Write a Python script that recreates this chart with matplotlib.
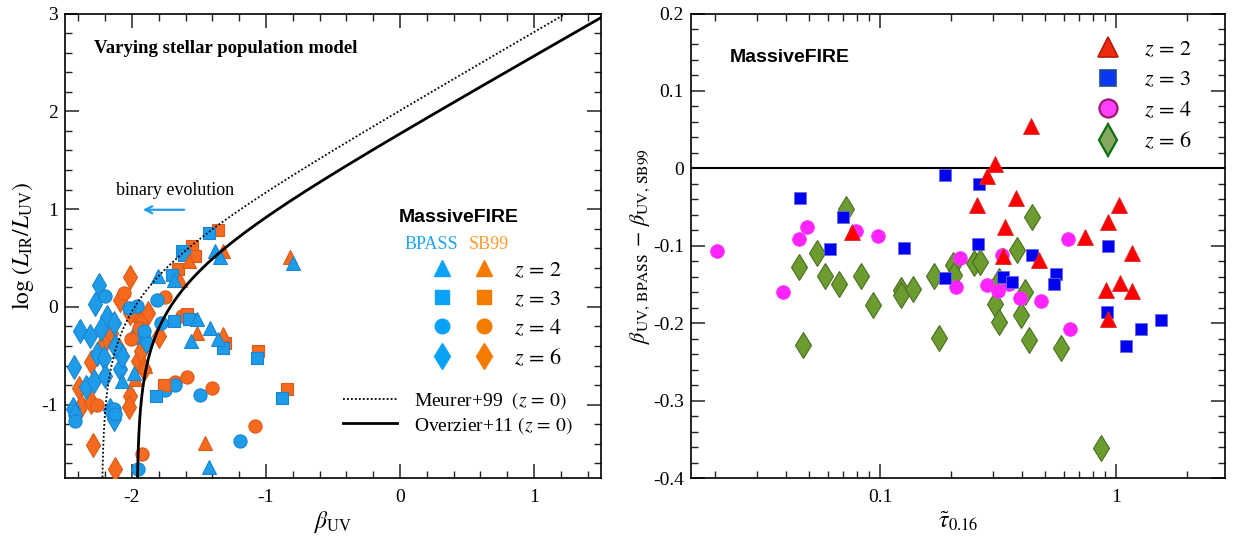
import numpy as np
import matplotlib
matplotlib.use("Agg")
import matplotlib.pyplot as plt
from matplotlib.lines import Line2D
from matplotlib.legend_handler import HandlerTuple
from matplotlib import ticker

plt.rcParams.update({
    "font.family": ["Liberation Serif", "DejaVu Serif"],
    "mathtext.fontset": "stix",
    "axes.unicode_minus": False,
    "xtick.direction": "in",
    "ytick.direction": "in",
    "xtick.top": True,
    "ytick.right": True,
    "axes.linewidth": 1.2,
})

# ---------------- IRX-beta sample (left panel) ----------------
bpass_z2_beta = [-1.380, -1.342, -1.806, -1.690, -1.516, -1.417, -1.561, -1.355, -0.797, -2.074, -1.988, -1.422]
bpass_z2_irx = [0.568, 0.510, 0.313, 0.279, -0.129, -0.214, -0.350, -0.327, 0.449, -0.759, -0.673, -1.633]
sb99_z2_beta = [-1.323, -0.821, -1.578, -1.640, -1.516, -1.318, -1.454, -1.901, -1.975]
sb99_z2_irx = [0.568, 0.510, 0.466, 0.279, -0.265, -0.282, -1.388, -0.605, -0.735]

bpass_z3_beta = [-1.429, -1.628, -1.610, -1.702, -1.690, -1.578, -1.318, -1.069, -1.819, -0.883]
bpass_z3_irx = [0.755, 0.568, 0.534, 0.330, -0.146, -0.122, -0.418, -0.520, -0.912, -0.929]
sb99_z3_beta = [-1.355, -1.553, -1.529, -1.653, -1.591, -1.305, -1.062, -0.846, -1.764]
sb99_z3_irx = [0.789, 0.619, 0.517, 0.388, -0.078, -0.367, -0.452, -0.844, -0.803]

bpass_z4_beta = [-2.199, -1.814, -1.963, -2.025, -1.782, -1.913, -2.136, -2.422, -1.752, -1.677, -1.491, -1.194, -1.958, -2.124]
bpass_z4_irx = [0.109, 0.068, 0.007, -0.010, -0.170, -0.248, -1.048, -1.167, -0.850, -0.799, -0.905, -1.371, -1.653, -1.099]
sb99_z4_beta = [-2.062, -1.752, -1.628, -1.591, -1.404, -1.082, -1.926, -2.261, -1.677, -2.007, -1.950]
sb99_z4_irx = [0.143, 0.102, -0.095, -0.714, -0.827, -1.218, -1.507, -1.007, -0.769, -0.333, -0.214]

bpass_z6_beta = [-2.248, -2.273, -2.186, -2.132, -2.385, -2.310, -2.231, -2.261, -2.211, -2.434, -2.340,
                 -2.280, -2.199, -2.087, -1.963, -1.893, -2.439, -2.429, -2.161, -2.132, -2.074, -2.124]
bpass_z6_irx = [0.228, 0.031, -0.102, -0.163, -0.248, -0.293, -0.231, -0.486, -0.520, -0.612, -0.816,
                -0.759, -0.707, -0.633, -0.272, -0.350, -1.041, -1.109, -1.054, -1.143, -0.503, -0.401]
sb99_z6_beta = [-2.012, -2.087, -1.963, -1.883, -1.933, -1.801, -2.211, -2.099, -2.156, -2.303, -1.958,
                -1.933, -2.397, -2.380, -2.303, -2.012, -2.025, -2.290, -2.124, -1.913, -2.012]
sb99_z6_irx = [0.306, 0.075, -0.095, -0.061, -0.170, -0.293, -0.367, -0.442, -0.265, -0.565, -0.554,
               -0.452, -0.827, -1.014, -0.973, -0.912, -1.024, -1.415, -1.653, -0.633, -0.061]

# Local IRX-beta relations: A_1600 = a + b * beta, IRX = 1.75 (10^(0.4 A) - 1)
meurer_coef = (4.43, 1.99)
overzier_coef = (3.85, 1.96)
irx_bc = 1.75

# ---------------- beta difference vs optical depth (right panel) ----------------
tau_z2 = [0.435, 0.308, 0.285, 0.258, 0.378, 0.338, 0.331, 0.473, 0.736, 0.927, 1.03, 1.175, 0.904, 1.04, 1.175, 0.927, 0.0761]
dbeta_z2 = [0.0553, 0.0058, -0.0097, -0.047, -0.038, -0.076, -0.113, -0.118, -0.0885, -0.069, -0.047, -0.110, -0.157, -0.148, -0.159, -0.195, -0.0827]

tau_z3 = [0.0459, 0.0695, 0.0615, 0.126, 0.189, 0.263, 0.260, 0.188, 0.331, 0.361, 0.439, 0.556, 0.546, 0.927, 0.920, 1.10, 1.28, 1.56]
dbeta_z3 = [-0.0385, -0.0628, -0.104, -0.103, -0.0084, -0.0208, -0.098, -0.142, -0.140, -0.147, -0.1115, -0.137, -0.149, -0.100, -0.185, -0.229, -0.208, -0.196]

tau_z4 = [0.0204, 0.0388, 0.0452, 0.0491, 0.0790, 0.0977, 0.218, 0.210, 0.285, 0.317, 0.329, 0.351, 0.392, 0.479, 0.627, 0.638]
dbeta_z4 = [-0.107, -0.160, -0.0907, -0.0752, -0.0805, -0.0872, -0.116, -0.153, -0.151, -0.159, -0.1115, -0.150, -0.167, -0.171, -0.0916, -0.207]

tau_z6 = [0.0452, 0.0473, 0.0541, 0.0585, 0.067, 0.0714, 0.0830, 0.0935, 0.123, 0.123, 0.138, 0.169, 0.177, 0.204,
          0.206, 0.250, 0.265, 0.308, 0.319, 0.319, 0.382, 0.397, 0.412, 0.439, 0.430, 0.585, 0.867]
dbeta_z6 = [-0.127, -0.228, -0.110, -0.139, -0.150, -0.0527, -0.139, -0.177, -0.157, -0.163, -0.156, -0.139, -0.219, -0.125,
            -0.138, -0.1226, -0.121, -0.175, -0.198, -0.146, -0.105, -0.189, -0.160, -0.0628, -0.222, -0.232, -0.3615]

# ---------------- styling ----------------
BPASS_C, BPASS_E = "#1E9CEA", "#1A84CF"
SB99_C, SB99_E = "#F56A1F", "#DD5A16"
shapes = {"z2": ("^", 10.0), "z3": ("s", 9.0), "z4": ("o", 9.5), "z6": ("d", 12.0)}

fig = plt.figure(figsize=(12.33, 5.36), dpi=100)
W, H = 1233.0, 536.0
ax1 = fig.add_axes([65 / W, (H - 478) / H, 536 / W, 464.5 / H])
ax2 = fig.add_axes([691 / W, (H - 478) / H, 534 / W, 464.5 / H])


def style_ticks(ax):
    ax.tick_params(which="major", length=10, width=1.1, labelsize=14, colors="#222222", labelcolor="black")
    ax.tick_params(which="minor", length=5, width=1.0, colors="#222222")
    ax.tick_params(axis="x", which="major", pad=8)
    ax.tick_params(axis="y", which="major", pad=5)


# ---- left panel ----
ax = ax1
groups = [
    ("z6", sb99_z6_beta, sb99_z6_irx, bpass_z6_beta, bpass_z6_irx),
    ("z4", sb99_z4_beta, sb99_z4_irx, bpass_z4_beta, bpass_z4_irx),
    ("z3", sb99_z3_beta, sb99_z3_irx, bpass_z3_beta, bpass_z3_irx),
    ("z2", sb99_z2_beta, sb99_z2_irx, bpass_z2_beta, bpass_z2_irx),
]
for key, sb_b, sb_i, bp_b, bp_i in groups:
    m, ms = shapes[key]
    ax.plot(sb_b, sb_i, ls="none", marker=m, ms=ms, mfc=SB99_C, mec=SB99_E, mew=0.8, zorder=3)
    ax.plot(bp_b, bp_i, ls="none", marker=m, ms=ms, mfc=BPASS_C, mec=BPASS_E, mew=0.8, zorder=3)


def irx_curve(coef, beta):
    a, b = coef
    att = a + b * beta
    return np.log10(irx_bc * (10 ** (0.4 * att) - 1))


b_m = np.linspace(-meurer_coef[0] / meurer_coef[1] + 1e-5, 1.6, 6000)
b_o = np.linspace(-overzier_coef[0] / overzier_coef[1] + 1e-5, 1.6, 6000)
ax.plot(b_m, irx_curve(meurer_coef, b_m), color="black", lw=1.3, ls=(0, (1, 1.2)), zorder=4)
ax.plot(b_o, irx_curve(overzier_coef, b_o), color="black", lw=2.0, zorder=4)

ax.set_xlim(-2.5, 1.5)
ax.set_ylim(-1.75, 3)
ax.xaxis.set_major_locator(ticker.MultipleLocator(1))
ax.xaxis.set_minor_locator(ticker.MultipleLocator(0.2))
ax.yaxis.set_major_locator(ticker.MultipleLocator(1))
ax.yaxis.set_minor_locator(ticker.MultipleLocator(0.2))
ax.xaxis.set_major_formatter(ticker.FuncFormatter(lambda v, p: f"{v:g}"))
ax.yaxis.set_major_formatter(ticker.FuncFormatter(lambda v, p: f"{v:g}"))
style_ticks(ax)
ax.set_xlabel(r"$\beta_{\rm UV}$", fontsize=17, labelpad=2)
ax.set_ylabel(r"$\log\,(L_{\rm IR}/L_{\rm UV})$", fontsize=17, labelpad=4)

ax.text(0.055, 0.925, "Varying stellar population model", transform=ax.transAxes,
        fontsize=13.5, fontweight="bold", ha="left", va="center")
ax.text(-1.68, 1.19, "binary evolution", fontsize=13, ha="center", va="center")
ax.annotate("", xy=(-1.94, 0.993), xytext=(-1.59, 0.993),
            arrowprops=dict(arrowstyle="->,head_length=0.5,head_width=0.25", color=BPASS_C, lw=1.6))

ax.text(0.735, 0.56, "MassiveFIRE", transform=ax.transAxes, fontsize=14, fontweight="bold",
        family=["Liberation Sans", "DejaVu Sans"], ha="center", va="center")
ax.text(0.684, 0.503, "BPASS", transform=ax.transAxes, fontsize=13, color="#1EA4F2", ha="center", va="center")
ax.text(0.790, 0.503, "SB99", transform=ax.transAxes, fontsize=13, color="#FF9A2E", ha="center", va="center")

z_labels = [r"$z\,=\,2$", r"$z\,=\,3$", r"$z\,=\,4$", r"$z\,=\,6$"]
pair_handles = []
for key in ["z2", "z3", "z4", "z6"]:
    m, ms = shapes[key]
    hb = Line2D([], [], ls="none", marker=m, ms=ms + 1, mfc="#0AA2F7", mec="#0AA2F7")
    ho = Line2D([], [], ls="none", marker=m, ms=ms + 1, mfc="#F57A00", mec="#F57A00")
    pair_handles.append((hb, ho))
leg1 = ax.legend(pair_handles, z_labels, handler_map={tuple: HandlerTuple(ndivide=None, pad=0.6)},
                 loc="upper left", bbox_to_anchor=(0.655, 0.492), frameon=False, fontsize=16,
                 handlelength=3.2, handletextpad=0.7, labelspacing=0.38, borderpad=0.0)
ax.add_artist(leg1)

line_handles = [Line2D([], [], color="black", lw=1.3, ls=(0, (1, 1.2))),
                Line2D([], [], color="black", lw=2.0)]
line_labels = [r"Meurer+99  $(z\,=\,0)$", r"Overzier+11 $(z\,=\,0)$"]
ax.legend(line_handles, line_labels, loc="lower right", bbox_to_anchor=(0.966, 0.07), frameon=False,
          fontsize=14, handlelength=2.8, handletextpad=0.9, labelspacing=0.2, borderpad=0.0)

# ---- right panel ----
ax = ax2
ax.axhline(0, color="black", lw=1.5, zorder=2)
ax.plot(tau_z6, dbeta_z6, ls="none", marker="d", ms=13, mfc="#6C9B30", mec="#4B6E21", mew=0.8, zorder=3)
ax.plot(tau_z4, dbeta_z4, ls="none", marker="o", ms=10, mfc="#FF24FF", mec="#F040F0", mew=0.5, zorder=3)
ax.plot(tau_z3, dbeta_z3, ls="none", marker="s", ms=8.5, mfc="#0000F2", mec="#6A6AE0", mew=0.6, zorder=3)
ax.plot(tau_z2, dbeta_z2, ls="none", marker="^", ms=11, mfc="#FF0000", mec="#D42A2A", mew=0.6, zorder=3)

ax.set_xscale("log")
ax.set_xlim(0.0158, 2.9)
ax.set_ylim(-0.4, 0.2)
ax.xaxis.set_major_locator(ticker.FixedLocator([0.1, 1.0]))
ax.xaxis.set_minor_locator(ticker.LogLocator(base=10, subs=np.arange(2, 10)))
ax.xaxis.set_major_formatter(ticker.FuncFormatter(lambda v, p: f"{v:g}"))
ax.xaxis.set_minor_formatter(ticker.NullFormatter())
ax.yaxis.set_major_locator(ticker.MultipleLocator(0.1))
ax.yaxis.set_minor_locator(ticker.MultipleLocator(0.02))
ax.yaxis.set_major_formatter(ticker.FuncFormatter(lambda v, p: f"{round(v, 2):g}"))
style_ticks(ax)
ax.set_xlabel(r"$\tilde{\tau}_{0.16}$", fontsize=17, labelpad=2)
ax.set_ylabel(r"$\beta_{\rm UV,\,BPASS}\,-\,\beta_{\rm UV,\,SB99}$", fontsize=16, labelpad=1)

ax.text(0.185, 0.905, "MassiveFIRE", transform=ax.transAxes, fontsize=14, fontweight="bold",
        family=["Liberation Sans", "DejaVu Sans"], ha="center", va="center")

right_handles = [
    Line2D([], [], ls="none", marker="^", ms=14, mfc="#EE2A10", mec="#B51A0A", mew=1.2),
    Line2D([], [], ls="none", marker="s", ms=12, mfc="#0A36F5", mec="#1A4E8A", mew=1.2),
    Line2D([], [], ls="none", marker="o", ms=13, mfc="#FF40FF", mec="#9A1A6A", mew=1.6),
    Line2D([], [], ls="none", marker="d", ms=16, mfc="#86A862", mec="#0F6E0F", mew=1.6),
]
ax.legend(right_handles, z_labels, loc="upper right", bbox_to_anchor=(0.96, 0.968), frameon=False,
          fontsize=16, handlelength=1.5, handletextpad=0.9, labelspacing=0.45, borderpad=0.0)

fig.savefig("out.png", dpi=100)
